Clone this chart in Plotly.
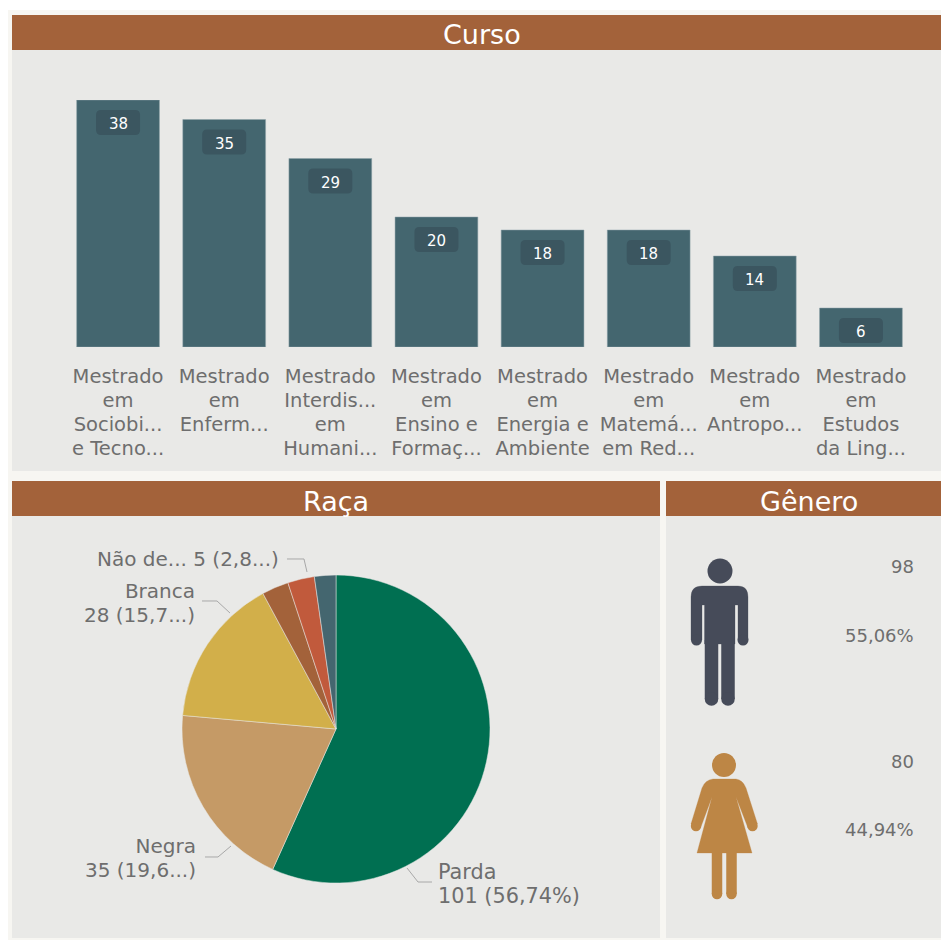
import plotly.graph_objects as go

# ---------- data ----------
course_labels = [
    ["Mestrado", "em", "Sociobi...", "e Tecno..."],
    ["Mestrado", "em", "Enferm..."],
    ["Mestrado", "Interdis...", "em", "Humani..."],
    ["Mestrado", "em", "Ensino e", "Formaç..."],
    ["Mestrado", "em", "Energia e", "Ambiente"],
    ["Mestrado", "em", "Matemá...", "em Red..."],
    ["Mestrado", "em", "Antropo..."],
    ["Mestrado", "em", "Estudos", "da Ling..."],
]
course_values = [38, 35, 29, 20, 18, 18, 14, 6]

race_names = ["Parda", "Negra", "Branca", "Outra A", "Não declarada", "Outra B"]
race_values = [101, 35, 28, 5, 5, 4]
race_colors = ["#006F51", "#C59A66", "#D2AF4A", "#A3623A", "#C15A3C", "#44666F"]

gender_counts = ["98", "80"]
gender_shares = ["55,06%", "44,94%"]

# ---------- page geometry ----------
W, H = 941, 940
FONT = "DejaVu Sans"
BROWN, PANEL, PAGE = "#A3623A", "#E9E9E7", "#F7F6F2"
TEAL, TEXT = "#44666F", "#6E6E6E"
PX, PY = lambda x: x / W, lambda y: 1 - y / H


def rect(x0, y0, x1, y1, color):
    return dict(type="rect", xref="paper", yref="paper", x0=PX(x0), x1=PX(x1),
                y0=PY(y1), y1=PY(y0), fillcolor=color, line_width=0, layer="below")


def pt(p):
    return f"{PX(p[0]):.5f},{PY(p[1]):.5f}"


def path(points, color=None, line=None, close=False):
    """Points are (x, y) for a straight segment, (cx, cy, x, y) for a curved one."""
    d = ""
    for i, p in enumerate(points):
        if len(p) == 4:
            d += f"Q{pt(p[:2])} {pt(p[2:])} "
        else:
            d += ("M" if i == 0 else "L") + pt(p) + " "
    if close:
        d += "Z"
    s = dict(type="path", xref="paper", yref="paper", path=d, layer="above")
    if color:
        s.update(fillcolor=color, line=dict(color=color, width=0.3))
    else:
        s.update(line=dict(color=line, width=1))
    return s


def stroke(x0, y0, x1, y1, color, width):
    return dict(type="line", xref="paper", yref="paper", x0=PX(x0), y0=PY(y0), x1=PX(x1), y1=PY(y1),
                line=dict(color=color, width=width), layer="above")


def dot(cx, cy, r, color):
    return dict(type="circle", xref="paper", yref="paper", x0=PX(cx - r), x1=PX(cx + r),
                y0=PY(cy + r), y1=PY(cy - r), fillcolor=color, line_width=0, layer="above")


def spaced(lines, size=20):
    return "<br>".join(f'<span style="font-size:{size}px">{t}</span>' for t in lines)


def label(x, y, text, anchor="center", size=18.5, color=TEXT, spacing=18.5):
    return dict(xref="paper", yref="paper", x=PX(x), y=PY(y), text=text, showarrow=False,
                xanchor=anchor, yanchor="middle", align=anchor,
                font=dict(family=FONT, size=spacing if "<span" in text else size, color=color))


def badge(i, v, half_w=22, top=-10, bottom=-35, r=5):
    """Rounded value badge anchored to a bar top through the axes, sized in pixels."""
    d = (f"M{-half_w + r},{top} L{half_w - r},{top} Q{half_w},{top} {half_w},{top - r} "
         f"L{half_w},{bottom + r} Q{half_w},{bottom} {half_w - r},{bottom} "
         f"L{-half_w + r},{bottom} Q{-half_w},{bottom} {-half_w},{bottom + r} "
         f"L{-half_w},{top - r} Q{-half_w},{top} {-half_w + r},{top} Z")
    return dict(type="path", xref="x", yref="y", xsizemode="pixel", ysizemode="pixel",
                xanchor=i, yanchor=v, path=d, fillcolor="#3B5660", line_width=0, layer="above")


shapes = [
    rect(8, 10, 941, 940, PAGE),
    rect(12, 50, 941, 471, PANEL),
    rect(12, 516, 660, 938, PANEL),
    rect(666, 516, 941, 938, PANEL),
    rect(12, 15, 941, 50, BROWN),
    rect(12, 481, 660, 516, BROWN),
    rect(666, 481, 941, 516, BROWN),
]

# leader lines of the pie labels
LEADER = "#A8A8A8"
shapes += [
    path([(287, 559), (304, 559), (307, 572)], line=LEADER),
    path([(202, 601), (217, 601), (230, 613)], line=LEADER),
    path([(205, 857), (218, 857), (231, 846)], line=LEADER),
    path([(407, 868), (418, 882), (432, 882)], line=LEADER),
]

# man icon
MAN = "#464B59"
shapes += [
    dot(720, 571, 12.5, MAN),
    path([(702, 586), (738, 586), (748, 586, 748, 597), (748, 640), (738, 640), (738, 605), (735, 605),
          (735, 644), (704.5, 644), (704.5, 605), (702, 605), (702, 640), (691, 640), (691, 597),
          (691, 586, 702, 586)], MAN, close=True),
    dot(696.5, 640, 5.5, MAN), dot(743, 640, 5.5, MAN),
    stroke(711.5, 640, 711.5, 699, MAN, 13.5),
    stroke(728, 640, 728, 699, MAN, 13.5),
    dot(711.5, 699, 6.75, MAN), dot(728, 699, 6.75, MAN),
]

# woman icon
WOMAN = "#BD8645"
shapes += [
    dot(724, 765, 12, WOMAN),
    path([(713, 779), (736, 779), (743, 780, 746, 788), (757.5, 824), (748, 828), (736, 797), (752, 853),
          (697, 853), (712, 797), (700.5, 828), (691, 824), (702, 788), (705, 780, 713, 779)],
         WOMAN, close=True),
    dot(696, 826, 5.2, WOMAN), dot(752.5, 826, 5.2, WOMAN),
    stroke(717, 850, 717, 894, WOMAN, 10.5),
    stroke(731.5, 850, 731.5, 894, WOMAN, 10.5),
    dot(717, 894, 5.25, WOMAN), dot(731.5, 894, 5.25, WOMAN),
]

annotations = [
    label(482, 34, "Curso", size=27, color="#FFFFFF"),
    label(336, 501, "Raça", size=27, color="#FFFFFF"),
    label(809, 501, "Gênero", size=27, color="#FFFFFF"),
    label(281, 559, "Não de... 5 (2,8...)", anchor="right", size=20),
    label(197, 603, spaced(["Branca", "28 (15,7...)"]), anchor="right"),
    label(198, 858, spaced(["Negra", "35 (19,6...)"]), anchor="right"),
    label(436, 884, spaced(["Parda", "101 (56,74%)"], 20.8), anchor="left"),
    label(916, 566, gender_counts[0], anchor="right", size=18),
    label(916, 635, gender_shares[0], anchor="right", size=18),
    label(916, 761, gender_counts[1], anchor="right", size=18),
    label(916, 829, gender_shares[1], anchor="right", size=18),
]

# value badges on the bars
for i, v in enumerate(course_values):
    shapes.append(badge(i, v))
    annotations.append(dict(
        xref="x", yref="y", x=i, y=v, yshift=-24, text=str(v), showarrow=False,
        font=dict(family=FONT, size=15, color="#FFFFFF"),
    ))

fig = go.Figure()
fig.add_trace(go.Bar(
    x=list(range(len(course_values))), y=course_values, width=0.78,
    marker=dict(color=TEAL, line=dict(color="#8FA3A9", width=0.5)),
    hoverinfo="skip",
))
fig.add_trace(go.Pie(
    labels=race_names, values=race_values, sort=False, direction="clockwise", rotation=0,
    marker=dict(colors=race_colors, line=dict(color=PANEL, width=0.5)),
    textinfo="none", hoverinfo="skip", showlegend=False,
    domain=dict(x=[PX(182), PX(490)], y=[PY(883), PY(575)]),
))

fig.update_layout(
    width=W, height=H, margin=dict(l=0, r=0, t=0, b=0),
    paper_bgcolor="#FFFFFF", plot_bgcolor="rgba(0,0,0,0)", showlegend=False,
    shapes=shapes, annotations=annotations,
    xaxis=dict(domain=[PX(65), PX(914)], range=[-0.5, 7.5], tickmode="array",
               tickvals=list(range(len(course_labels))),
               ticktext=[spaced(l, 19.5) for l in course_labels],
               tickfont=dict(family=FONT, size=18.5, color=TEXT), tickangle=0,
               showgrid=False, zeroline=False, showline=False, ticks="outside", ticklen=13,
               tickcolor="rgba(0,0,0,0)"),
    yaxis=dict(domain=[PY(347), PY(100)], range=[0, 38], visible=False, showgrid=False, zeroline=False),
)

fig.write_html("out.html", config={"displayModeBar": False},
               post_script="document.body.style.margin='0';")
